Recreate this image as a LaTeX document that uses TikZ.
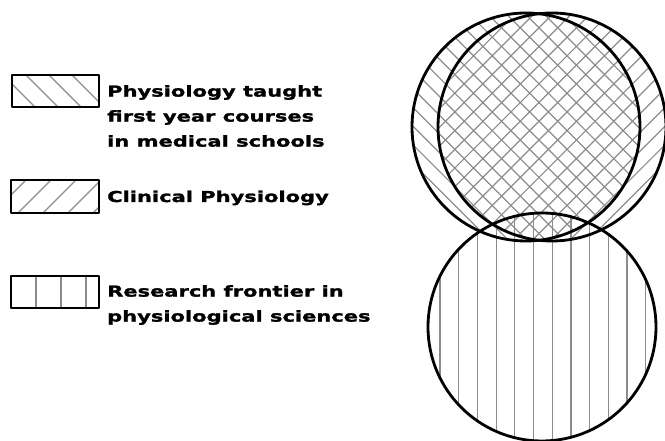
\documentclass[tikz,border=0pt]{standalone}
\usepackage{fontspec}
\newfontfamily\legendfont{DejaVu Sans}[FakeStretch=1.4, BoldFeatures={FakeBold=1.6}]
\usetikzlibrary{calc}
\tikzset{
  hatch step/.store in=\HatchStep,
  venn radius/.store in=\VennR,
  hatch step=18.7,
  venn radius=114,
  outline/.style={line width=2.8pt, black},
  hatch/.style={line width=1.2pt, black!45},
  keybox/.style={line width=2.2pt, black},
  keytext/.style={font=\legendfont\bfseries\fontsize{15}{25}\selectfont, inner sep=0pt, align=left}
}

\begin{document}
\begin{tikzpicture}[x=1pt, y=1pt, line cap=round, line join=round]

  \useasboundingbox (0,0) rectangle (665,441);

  \coordinate (CL) at (526,314);
  \coordinate (CR) at (552,314);
  \coordinate (CB) at (542,114);

  % first year courses
  \begin{scope}
    \clip (CL) circle (\VennR);
    \foreach \k in {-9,...,9}
      \draw[hatch] ($(CL)+(\k*\HatchStep-170,170)$) -- ++(340,-340);
  \end{scope}

  % clinical physiology
  \begin{scope}
    \clip (CR) circle (\VennR);
    \foreach \k in {-9,...,9}
      \draw[hatch] ($(CR)+(\k*\HatchStep-170,-170)$) -- ++(340,340);
  \end{scope}

  % research frontier
  \begin{scope}
    \clip (CB) circle (\VennR);
    \foreach \k in {-1,...,12}
      \draw[hatch] (440+\k*\HatchStep,0) -- ++(0,240);
  \end{scope}

  \draw[outline] (CL) circle (\VennR);
  \draw[outline] (CR) circle (\VennR);
  \draw[outline] (CB) circle (\VennR);

  % ---- key ----
  \begin{scope}
    \clip (12,334) rectangle (99,366);
    \foreach \k in {0,...,4}
      \draw[hatch] (\k*23-20,366) -- ++(40,-40);
  \end{scope}
  \draw[keybox] (12,334) rectangle (99,366);

  \begin{scope}
    \clip (11,228) rectangle (99,261);
    \foreach \k in {0,...,4}
      \draw[hatch] (\k*25-10,225) -- ++(40,40);
  \end{scope}
  \draw[keybox] (11,228) rectangle (99,261);

  \begin{scope}
    \clip (11,133) rectangle (99,165);
    \foreach \k in {1,...,3}
      \draw[hatch] (11+\k*25,133) -- ++(0,32);
  \end{scope}
  \draw[keybox] (11,133) rectangle (99,165);

  \node[keytext, anchor=north west] (firstyear) at (107,356)
    {Physiology taught\\first year courses\\in medical schools};
  \node[keytext, anchor=base west] (clinical) at (107,239) {Clinical Physiology};
  \node[keytext, anchor=north west] (research) at (107,156)
    {Research frontier in\\physiological sciences};

\end{tikzpicture}
\end{document}
